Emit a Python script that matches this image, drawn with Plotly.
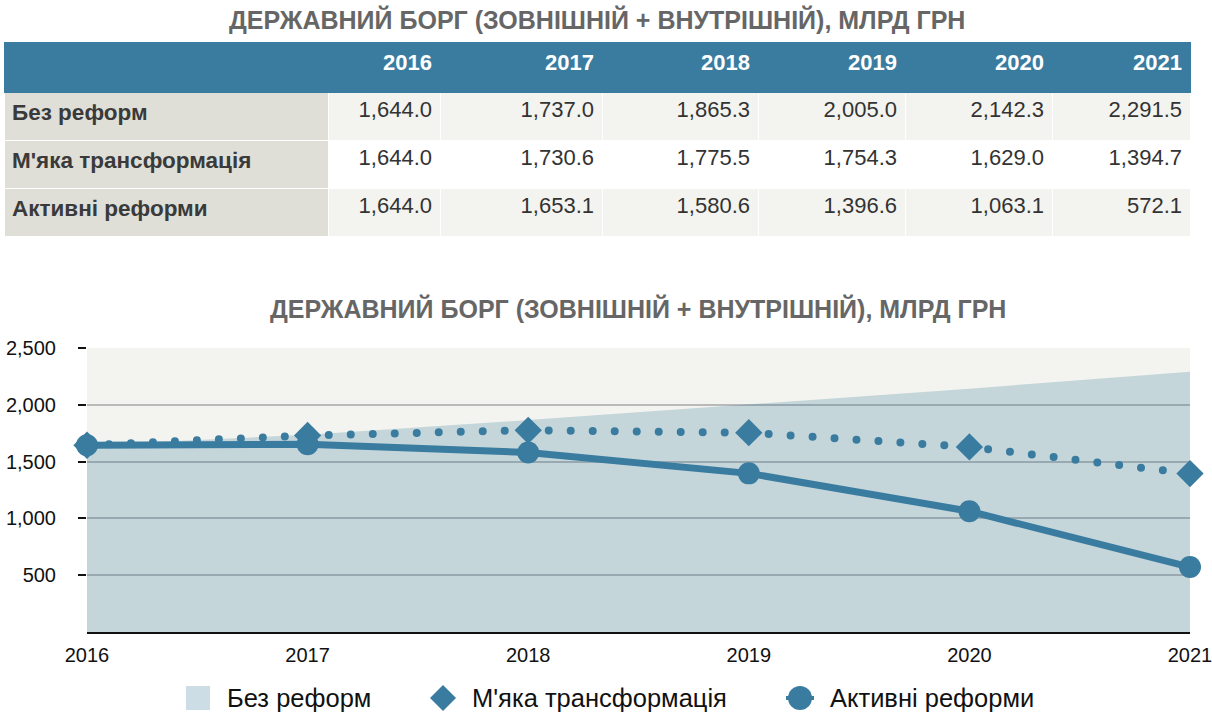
import plotly.graph_objects as go

# --- data ---
years = [2016, 2017, 2018, 2019, 2020, 2021]
bez_reform = [1644.0, 1737.0, 1865.3, 2005.0, 2142.3, 2291.5]
myaka_transf = [1644.0, 1730.6, 1775.5, 1754.3, 1629.0, 1394.7]
aktyvni_reformy = [1644.0, 1653.1, 1580.6, 1396.6, 1063.1, 572.1]
scenarios = ["Без реформ", "М'яка трансформація", "Активні реформи"]
title_text = "ДЕРЖАВНИЙ БОРГ (ЗОВНІШНІЙ + ВНУТРІШНІЙ), МЛРД ГРН"

W, H = 1212, 717
BLUE = "#3a7ca0"
AREA_LEG = "#cddde5"
FONT = "Liberation Sans, Arial, sans-serif"


def py(px):
    # pixel row from top -> paper fraction
    return (H - px) / H


def fmt(v):
    return f"{v:,.1f}"


fig = go.Figure()

# ── table ──────────────────────────────────────────────
series = [bez_reform, myaka_transf, aktyvni_reformy]
cols = [[f"<b>{s}</b>" for s in scenarios]] + [[fmt(s[i]) for s in series] for i in range(len(years))]
row_fill = ["#f3f4ef", "#ffffff", "#f3f4ef"]
fills = [["#dfdfd8"] * 3] + [row_fill] * len(years)

fig.add_trace(go.Table(
    domain=dict(x=[4 / W, 1190 / W], y=[py(238), py(42)]),
    columnwidth=[324, 112, 162, 156, 147, 147, 138],
    header=dict(
        values=[""] + [f"<b>{y}</b>" for y in years],
        fill_color=BLUE, line_color=BLUE, height=50,
        align=["left"] + ["right"] * 6,
        font=dict(family=FONT, size=22, color="white"),
    ),
    cells=dict(
        values=cols,
        fill_color=fills, line=dict(color="#ffffff", width=1), height=48,
        align=["left"] + ["right"] * 6,
        font=dict(family=FONT, size=[22.5, 22], color=["#3a3a3a", "#333333"]),
    ),
))

# ── chart ──────────────────────────────────────────────
fig.add_trace(go.Scatter(
    x=years, y=bez_reform, name=scenarios[0], mode="lines",
    fill="tozeroy", fillcolor="rgba(58,124,160,0.25)",
    line=dict(width=0, color="rgba(58,124,160,0.25)"),
    hoverinfo="skip", showlegend=False,
))
fig.add_trace(go.Scatter(
    x=years, y=myaka_transf, name=scenarios[1], mode="lines+markers",
    line=dict(color=BLUE, width=8, dash="0px,22px"),
    marker=dict(symbol="diamond", size=21, color=BLUE),
    showlegend=False, cliponaxis=False,
))
fig.add_trace(go.Scatter(
    x=years, y=aktyvni_reformy, name=scenarios[2], mode="lines+markers",
    line=dict(color=BLUE, width=7),
    marker=dict(symbol="circle", size=22, color=BLUE),
    showlegend=False, cliponaxis=False,
))

# ── custom legend (shapes sized in pixels + annotations) ──
leg_y = py(698)
leg_items = [(198, 225), (443, 470), (800, 828)]  # symbol centre, text start (px)
shapes = [
    dict(type="rect", xref="paper", yref="paper", xsizemode="pixel", ysizemode="pixel",
         xanchor=leg_items[0][0] / W, yanchor=leg_y, x0=-12, x1=12, y0=-12, y1=12,
         fillcolor=AREA_LEG, line=dict(width=0)),
    dict(type="path", xref="paper", yref="paper", xsizemode="pixel", ysizemode="pixel",
         xanchor=leg_items[1][0] / W, yanchor=leg_y,
         path="M -13 0 L 0 13 L 13 0 L 0 -13 Z",
         fillcolor=BLUE, line=dict(width=0)),
    dict(type="line", xref="paper", yref="paper", xsizemode="pixel", ysizemode="pixel",
         xanchor=leg_items[2][0] / W, yanchor=leg_y, x0=-14, x1=14, y0=0, y1=0,
         line=dict(color=BLUE, width=4)),
    dict(type="circle", xref="paper", yref="paper", xsizemode="pixel", ysizemode="pixel",
         xanchor=leg_items[2][0] / W, yanchor=leg_y, x0=-12, x1=12, y0=-12, y1=12,
         fillcolor=BLUE, line=dict(width=0)),
]
annotations = [
    dict(text=f"<b>{title_text}</b>", x=597 / W, y=py(19), xref="paper", yref="paper",
         xanchor="center", yanchor="middle", showarrow=False,
         font=dict(family=FONT, size=25, color="#666666")),
    dict(text=f"<b>{title_text}</b>", x=638 / W, y=py(308), xref="paper", yref="paper",
         xanchor="center", yanchor="middle", showarrow=False,
         font=dict(family=FONT, size=25, color="#666666")),
]
for name, (_, tx) in zip(scenarios, leg_items):
    annotations.append(dict(text=name, x=tx / W, y=leg_y, xref="paper", yref="paper",
                            xanchor="left", yanchor="middle", showarrow=False,
                            font=dict(family=FONT, size=25.5, color="#111111")))

fig.update_layout(
    width=W, height=H,
    margin=dict(l=0, r=0, t=0, b=0, autoexpand=False),
    paper_bgcolor="white", plot_bgcolor="#f3f4ef",
    font=dict(family=FONT, size=20, color="#111111"),
    showlegend=False,
    xaxis=dict(
        domain=[87 / W, 1190 / W], range=[2016, 2021],
        tickvals=years, ticks="", showgrid=False,
        showline=True, linecolor="#111111", linewidth=2,
        tickfont=dict(size=20, color="#111111"), fixedrange=True,
        automargin=False, ticklabeloverflow="allow", ticklabelstandoff=4,
    ),
    yaxis=dict(
        domain=[py(632), py(348)], range=[0, 2500],
        tickvals=[500, 1000, 1500, 2000, 2500], tickformat=",",
        ticks="outside", ticklen=8, tickwidth=2, tickcolor="#111111",
        showgrid=True, gridcolor="#b9b9b9", gridwidth=2,
        zeroline=False, showline=False,
        tickfont=dict(size=20, color="#111111"), fixedrange=True,
        automargin=False, ticklabelstandoff=18,
    ),
    shapes=shapes,
    annotations=annotations,
)

# no page margin; round caps so the dotted line shows round dots
post = """
document.body.style.margin = '0';
var st = document.createElement('style');
st.innerHTML = 'path.js-line[style*="0px, 22px"], path.js-line[style*="0px,22px"] {stroke-linecap: round !important;}';
document.head.appendChild(st);
"""

fig.write_html("out.html", post_script=post, config={"displayModeBar": False})
